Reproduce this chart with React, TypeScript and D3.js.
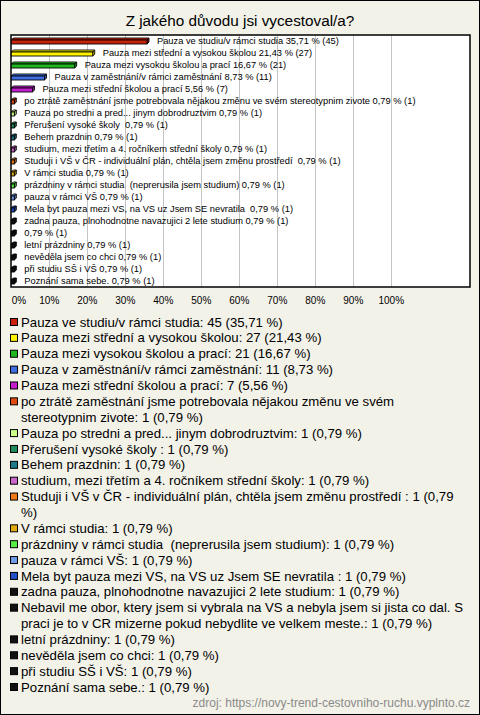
import React, { useMemo } from 'react';
import * as d3 from 'd3';

const W = 480;
const H = 715;
const TITLE = 'Z jakého důvodu jsi vycestoval/a?';
const SOURCE = 'zdroj: https://novy-trend-cestovniho-ruchu.vyplnto.cz';

const categories = [
  'Pauza ve studiu/v rámci studia',
  'Pauza mezi střední a vysokou školou',
  'Pauza mezi vysokou školou a prací',
  'Pauza v zaměstnání/v rámci zaměstnání',
  'Pauza mezi střední školou a prací',
  'po ztrátě zaměstnání jsme potrebovala nějakou změnu ve svém stereotypnim zivote',
  'Pauza po stredni a pred... jinym dobrodruztvim',
  'Přerušení vysoké školy ',
  'Behem prazdnin',
  'studium, mezi třetím a 4. ročníkem střední školy',
  'Studuji i VŠ v ČR - individuální plán, chtěla jsem změnu prostředí ',
  'V rámci studia',
  'prázdniny v rámci studia  (neprerusila jsem studium)',
  'pauza v rámci VŠ',
  'Mela byt pauza mezi VS, na VS uz Jsem SE nevratila ',
  'zadna pauza, plnohodnotne navazujici 2 lete studium',
  'Nebavil me obor, ktery jsem si vybrala na VS a nebyla jsem si jista co dal. S praci je to v CR mizerne pokud nebydlite ve velkem meste.',
  'letní prázdniny',
  'nevěděla jsem co chci',
  'při studiu SŠ i VŠ',
  'Poznání sama sebe.',
];

const counts = [45, 27, 21, 11, 7, 1, 1, 1, 1, 1, 1, 1, 1, 1, 1, 1, 1, 1, 1, 1, 1];
const percents = [35.71, 21.43, 16.67, 8.73, 5.56, 0.79, 0.79, 0.79, 0.79, 0.79, 0.79, 0.79, 0.79, 0.79, 0.79, 0.79, 0.79, 0.79, 0.79, 0.79, 0.79];

const colors = [
  '#c8220c', '#fff200', '#1fb81f', '#3f6ee0', '#c41fcf', '#e04a10', '#ccff8a', '#1f8a5a',
  '#1f7a8a', '#cc66cc', '#ee7a1a', '#e0aa10', '#55ee44', '#6f9ae8', '#2250c8',
  '#111111', '#111111', '#111111', '#111111', '#111111', '#111111',
];

const xTicks = [0, 10, 20, 30, 40, 50, 60, 70, 80, 90, 100];

const FONT = '"Liberation Sans", Arial, Helvetica, sans-serif';
const LEGEND_SIZE = 13.2;

const fmt = (v: number) => v.toFixed(2).replace('.', ',');

function wrapText(text: string, maxW: number, size: number): string[] {
  const canvas = document.createElement('canvas');
  const ctx = canvas.getContext('2d');
  if (!ctx) return [text];
  ctx.font = `${size}px "Liberation Sans", Arial, sans-serif`;
  const words = text.split(' ');
  const lines: string[] = [];
  let cur = '';
  words.forEach((w, i) => {
    const trial = i === 0 ? w : cur + ' ' + w;
    if (i > 0 && ctx.measureText(trial).width > maxW && cur.length) {
      lines.push(cur);
      cur = w;
    } else {
      cur = trial;
    }
  });
  lines.push(cur);
  return lines;
}

export default function App() {
  const plot = { left: 11, right: 470, top: 35, bottom: 287 };
  const x = d3.scaleLinear().domain([0, 100]).range([11.3, 391.3]);
  const y = d3
    .scaleBand<number>()
    .domain(d3.range(categories.length))
    .range([plot.top, plot.bottom]);

  const legendLines = useMemo(() => {
    const out: { idx: number; lines: string[] }[] = [];
    categories.forEach((c, i) => {
      const t = `${c}: ${counts[i]} (${fmt(percents[i])} %)`;
      out.push({ idx: i, lines: wrapText(t, 449, LEGEND_SIZE) });
    });
    return out;
  }, []);

  const LH = 15.87;
  let lineNo = 0;
  const legendStart = 322;

  const d = 2;
  const bh = 4;

  return (
    <div style={{ position: 'absolute', left: 0, top: 0 }}>
      <svg width={W} height={H} style={{ display: 'block', fontFamily: FONT }}>
        <rect x={0.5} y={0.5} width={W - 1} height={H - 1} fill="#f3f2e9" stroke="#000" strokeWidth={1} />
        <text x={240} y={26} textAnchor="middle" fontSize={15.3} fill="#000">
          {TITLE}
        </text>

        <rect
          x={plot.left}
          y={plot.top}
          width={plot.right - plot.left}
          height={plot.bottom - plot.top}
          fill="#ffffff"
        />
        {xTicks.slice(1).map((t) => (
          <line
            key={'g' + t}
            x1={Math.round(x(t)) + 0.5}
            x2={Math.round(x(t)) + 0.5}
            y1={plot.top}
            y2={plot.bottom}
            stroke="#c4c4c4"
            strokeWidth={1}
          />
        ))}
        <rect
          x={plot.left}
          y={plot.top}
          width={plot.right - plot.left}
          height={plot.bottom - plot.top}
          fill="none"
          stroke="#000"
          strokeWidth={1.5}
        />

        {categories.map((c, i) => {
          const cy = (y(i) as number) + y.bandwidth() / 2;
          const x0 = x(0);
          const x1 = x(percents[i]);
          const y0 = cy - 1;
          const col = colors[i];
          const top = `M${x0},${y0}L${x0 + d},${y0 - d}L${x1 + d},${y0 - d}L${x1},${y0}Z`;
          const side = `M${x1},${y0}L${x1 + d},${y0 - d}L${x1 + d},${y0 + bh - d}L${x1},${y0 + bh}Z`;
          const shown = c.length > 100 ? '' : c + ' ';
          return (
            <g key={'b' + i}>
              <path d={top} fill={d3.color(col)!.brighter(0.4).toString()} stroke="#000" strokeWidth={0.9} />
              <path d={side} fill={d3.color(col)!.darker(0.6).toString()} stroke="#000" strokeWidth={0.9} />
              <rect x={x0} y={y0} width={x1 - x0} height={bh} fill={col} stroke="#000" strokeWidth={0.9} />
              <text
                x={x1 + 10}
                y={cy + 3.3}
                fontSize={9.3}
                fill="#000"
                style={{ whiteSpace: 'pre' }}
              >
                {`${shown}${fmt(percents[i])} % (${counts[i]})`}
              </text>
            </g>
          );
        })}

        {xTicks.map((t, i) => (
          <text
            key={'t' + t}
            x={i === 0 ? x(t) + 0.5 : x(t)}
            y={303.5}
            textAnchor={i === 0 ? 'start' : 'middle'}
            fontSize={10}
            fill="#000"
          >
            {`${t}%`}
          </text>
        ))}

        {legendLines.map(({ idx, lines }) => {
          const firstY = legendStart + lineNo * LH;
          const els = (
            <g key={'l' + idx}>
              <rect x={10.5} y={firstY - 3.5} width={7} height={7} fill={colors[idx]} stroke="#000" strokeWidth={1} />
              {lines.map((ln, k) => (
                <text
                  key={k}
                  x={21}
                  y={firstY + k * LH + 4.6}
                  fontSize={LEGEND_SIZE}
                  fill="#000"
                  style={{ whiteSpace: 'pre' }}
                >
                  {ln}
                </text>
              ))}
            </g>
          );
          lineNo += lines.length;
          return els;
        })}

        <text x={470} y={707} textAnchor="end" fontSize={12} fill="#8a8a8a">
          {SOURCE}
        </text>
      </svg>
    </div>
  );
}
